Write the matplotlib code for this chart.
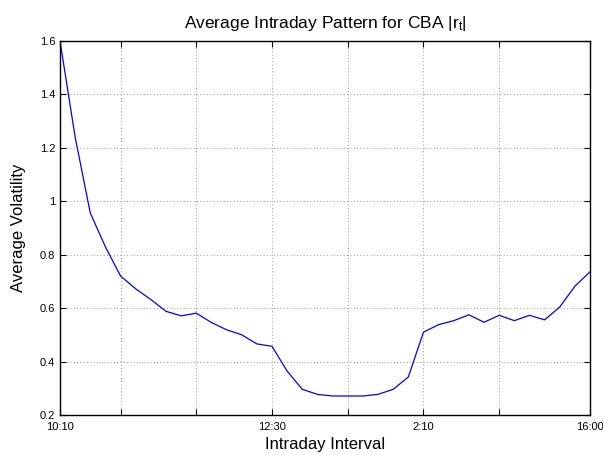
import numpy as np
import matplotlib
matplotlib.use("Agg")
import matplotlib.pyplot as plt

plt.rcParams['font.family'] = ['Liberation Sans', 'DejaVu Sans']
plt.rcParams['mathtext.fontset'] = 'custom'
plt.rcParams['mathtext.rm'] = 'Liberation Sans'
plt.rcParams['mathtext.it'] = 'Liberation Sans'

# 10-minute intervals from 10:10 to 16:00 (36 points)
volatility = [1.60, 1.24, 0.956, 0.829, 0.72, 0.672, 0.632, 0.588, 0.571, 0.581,
              0.546, 0.519, 0.50, 0.466, 0.457, 0.364, 0.296, 0.277, 0.271, 0.271,
              0.271, 0.277, 0.296, 0.342, 0.51, 0.538, 0.553, 0.575, 0.547, 0.573,
              0.553, 0.573, 0.556, 0.604, 0.682, 0.736]
interval = np.arange(1, len(volatility) + 1)

xtick_pos = [1, 5, 10, 15, 20, 25, 30, 36]
xtick_labels = ['10:10', '', '', '12:30', '', '2:10', '', '16:00']
ytick_pos = [0.2, 0.4, 0.6, 0.8, 1.0, 1.2, 1.4, 1.6]
ytick_labels = ['0.2', '0.4', '0.6', '0.8', '1', '1.2', '1.4', '1.6']

fig = plt.figure(figsize=(6.03, 4.55), dpi=100)
ax = fig.add_axes([0.0995, 0.088, 0.879, 0.822])

ax.plot(interval, volatility, color='#0000ff', linewidth=0.9)

ax.set_xlim(1, 36)
ax.set_ylim(0.2, 1.6)
ax.set_xticks(xtick_pos)
ax.set_xticklabels(xtick_labels)
ax.set_yticks(ytick_pos)
ax.set_yticklabels(ytick_labels)

ax.grid(True, linestyle=(0, (1, 3)), color='#777777', linewidth=0.6)
ax.tick_params(direction='in', top=True, right=True, length=4, labelsize=8)
ax.tick_params(axis='x', pad=5)
for s in ax.spines.values():
    s.set_linewidth(1.0)

ax.set_title('Average Intraday Pattern for CBA |r$_\\mathrm{t}$|', fontsize=12.5, pad=9)
ax.set_xlabel('Intraday Interval', fontsize=12, labelpad=4)
ax.set_ylabel('Average Volatility', fontsize=12, labelpad=10)

fig.savefig('out.png', dpi=100)
